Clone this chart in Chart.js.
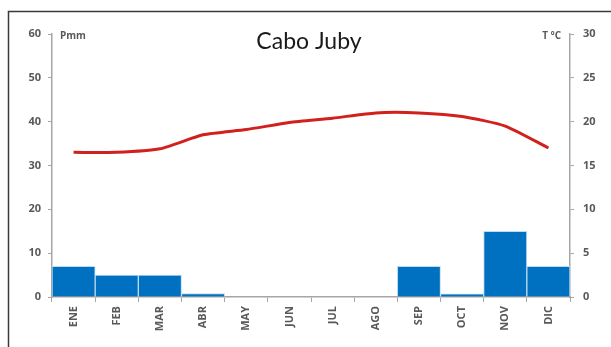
<!DOCTYPE html>
<html>
<head>
<meta charset="utf-8">
<script src="https://cdn.jsdelivr.net/npm/chart.js@4/dist/chart.umd.min.js"></script>
<style>
  html, body { margin: 0; padding: 0; background: #fff; }
  #wrap { position: relative; width: 611px; height: 347px; }
</style>
</head>
<body>
<div id="wrap"><canvas id="c" width="611" height="347"></canvas></div>
<script>
// Climograma de Cabo Juby: precipitación (barras) y temperatura (línea)
const meses = ['ENE', 'FEB', 'MAR', 'ABR', 'MAY', 'JUN', 'JUL', 'AGO', 'SEP', 'OCT', 'NOV', 'DIC'];
const precipitacion = [7, 5, 5, 0.8, 0, 0, 0, 0, 7, 0.7, 15, 7];
const temperatura = [16.5, 16.5, 16.9, 18.5, 19.1, 19.9, 20.4, 21, 21, 20.6, 19.5, 17];
const titulo = 'Cabo Juby';
const etiquetaP = 'Pmm';
const etiquetaT = 'T ºC';

const gris = '#a6a6a6';
const textoGris = '#595959';
const fuente = "'Open Sans', 'Liberation Sans', sans-serif";

// Marco, título y rótulos de las unidades
const decoracion = {
  id: 'decoracion',
  afterDraw(chart) {
    const ctx = chart.ctx;
    const a = chart.chartArea;
    ctx.save();
    ctx.strokeStyle = '#3a3a3a';
    ctx.lineWidth = 1.5;
    ctx.beginPath();
    ctx.moveTo(8.5, 347);
    ctx.lineTo(8.5, 11.5);
    ctx.lineTo(611, 11.5);
    ctx.stroke();

    ctx.fillStyle = '#1a1a1a';
    ctx.font = "23px Lato, 'Open Sans', sans-serif";
    ctx.textAlign = 'center';
    ctx.textBaseline = 'middle';
    ctx.fillText(titulo, 309, 42);

    ctx.fillStyle = textoGris;
    ctx.font = "bold 10px " + fuente;
    ctx.textAlign = 'left';
    ctx.fillText(etiquetaP, a.left + 8, 36);
    ctx.textAlign = 'right';
    ctx.fillText(etiquetaT, a.right - 9, 36);
    ctx.restore();
  }
};

new Chart(document.getElementById('c'), {
  data: {
    labels: meses,
    datasets: [
      {
        type: 'line',
        data: temperatura,
        yAxisID: 'yT',
        borderColor: '#d2201d',
        borderWidth: 3,
        pointRadius: 0,
        tension: 0.2,
        order: 0
      },
      {
        type: 'bar',
        data: precipitacion,
        yAxisID: 'yP',
        backgroundColor: '#0070c0',
        borderColor: '#bcdcf3',
        borderWidth: 1,
        barPercentage: 1,
        categoryPercentage: 1,
        order: 1
      }
    ]
  },
  options: {
    responsive: false,
    animation: false,
    layout: { padding: { top: 34, left: 0, right: 0, bottom: 0 } },
    plugins: { legend: { display: false }, tooltip: { enabled: false }, title: { display: false } },
    scales: {
      x: {
        offset: true,
        grid: { offset: true, drawOnChartArea: false, tickLength: 5, color: gris },
        border: { display: true, color: gris, width: 1.5 },
        ticks: {
          minRotation: 90, maxRotation: 90, padding: 4,
          color: textoGris, font: { family: fuente, size: 11, weight: 'bold' }
        },
        afterFit(s) { s.height = 50; }
      },
      yP: {
        position: 'left',
        min: 0, max: 60,
        grid: { drawOnChartArea: false, tickLength: 4, color: gris },
        border: { display: true, color: gris, width: 1.5 },
        ticks: { stepSize: 10, padding: 7, color: textoGris, font: { family: fuente, size: 11, weight: 'bold' } },
        afterFit(s) { s.width = 52; }
      },
      yT: {
        position: 'right',
        min: 0, max: 30,
        grid: { drawOnChartArea: false, tickLength: 4, color: gris },
        border: { display: true, color: gris, width: 1.5 },
        ticks: { stepSize: 5, padding: 9, color: textoGris, font: { family: fuente, size: 11, weight: 'bold' } },
        afterFit(s) { s.width = 41; }
      }
    }
  },
  plugins: [decoracion]
});
</script>
</body>
</html>
